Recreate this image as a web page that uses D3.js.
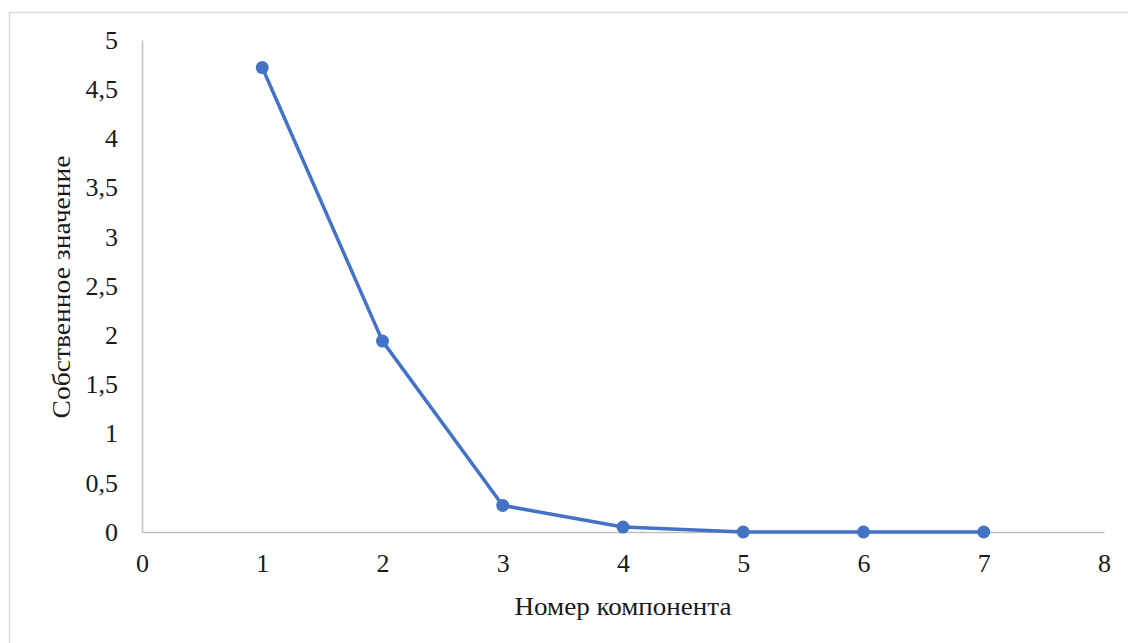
<!DOCTYPE html>
<html><head><meta charset="utf-8">
<script src="https://cdn.jsdelivr.net/npm/d3@7"></script>
<style>
html,body{margin:0;padding:0;background:#fff;}
</style></head>
<body>
<svg id="chart" width="1128" height="643"></svg>
<script>
const components = [1, 2, 3, 4, 5, 6, 7];
const eigenvalues = [4.72, 1.94, 0.27, 0.05, 0, 0, 0];
const xTicks = [0, 1, 2, 3, 4, 5, 6, 7, 8];
const yTicks = [0, 0.5, 1, 1.5, 2, 2.5, 3, 3.5, 4, 4.5, 5];
const xTitle = "Номер компонента";
const yTitle = "Собственное значение";

const FONT = "'Liberation Serif', 'DejaVu Serif', serif";
const svg = d3.select("#chart");
svg.append("rect").attr("x", 9.5).attr("y", 12.5).attr("width", 1130).attr("height", 640)
  .attr("fill", "#fff").attr("stroke", "#d9d9d9").attr("stroke-width", 1.5);

const x = d3.scaleLinear().domain([0, 8]).range([142, 1104]);
const y = d3.scaleLinear().domain([0, 5]).range([532, 40]);
const fmt = d => String(d).replace(".", ",");

const xAxis = svg.append("g").attr("transform", `translate(0,${y(0)})`)
  .call(d3.axisBottom(x).tickValues(xTicks).tickSize(0).tickPadding(22).tickFormat(fmt));
xAxis.attr("font-family", FONT);
xAxis.select(".domain").attr("stroke", "#bfbfbf").attr("stroke-width", 1.5);
xAxis.selectAll("text").attr("font-family", FONT).attr("font-size", 26).attr("fill", "#1a1a1a");

const yAxis = svg.append("g").attr("transform", `translate(${x(0)},0)`)
  .call(d3.axisLeft(y).tickValues(yTicks).tickSize(0).tickPadding(24).tickFormat(fmt));
yAxis.attr("font-family", FONT);
yAxis.select(".domain").attr("stroke", "#bfbfbf").attr("stroke-width", 1.5);
yAxis.selectAll("text").attr("font-family", FONT).attr("font-size", 26).attr("fill", "#1a1a1a");

const data = components.map((c, i) => ({c, v: eigenvalues[i]}));
svg.append("path").datum(data)
  .attr("fill", "none").attr("stroke", "#4472c4").attr("stroke-width", 3.5)
  .attr("stroke-linejoin", "round")
  .attr("d", d3.line().x(d => x(d.c)).y(d => y(d.v)));
svg.selectAll("circle.pt").data(data).enter().append("circle")
  .attr("class", "pt").attr("cx", d => x(d.c)).attr("cy", d => y(d.v)).attr("r", 6.5)
  .attr("fill", "#4472c4");

svg.append("text").attr("x", 623).attr("y", 615).attr("text-anchor", "middle")
  .attr("font-family", FONT).attr("fill", "#1a1a1a")
  .attr("font-size", 26).attr("textLength", 217).attr("lengthAdjust", "spacingAndGlyphs").text(xTitle);
svg.append("text").attr("transform", "translate(70,287) rotate(-90)").attr("text-anchor", "middle")
  .attr("font-family", FONT).attr("fill", "#1a1a1a")
  .attr("font-size", 25).attr("textLength", 263).attr("lengthAdjust", "spacingAndGlyphs").text(yTitle);
</script>
</body></html>
